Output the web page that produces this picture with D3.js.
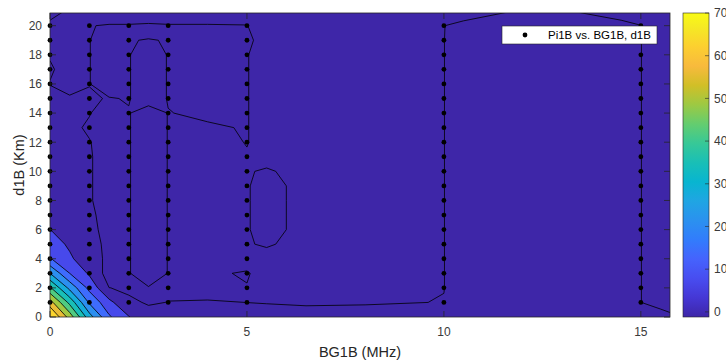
<!DOCTYPE html>
<html>
<head>
<meta charset="utf-8">
<script src="https://cdn.jsdelivr.net/npm/d3@7"></script>
<style>
  body { margin: 0; background: #fff; }
  svg { display: block; font-family: "Liberation Sans", Arial, sans-serif; }
</style>
</head>
<body>
<svg id="chart"></svg>
<script>
// contour grid: BG1B (MHz) columns, d1B (Km) rows
const bgNodes = [0, 0.5, 1, 1.5, 2, 2.5, 3, 4, 5, 5.5, 6.5, 8, 10, 10.5, 12.5, 14.5, 15, 15.5, 16];
const dNodes = [0, 1, 2, 3, 4, 5, 6, 7, 8, 9, 10, 11, 12, 13, 14, 15, 16, 17, 18, 19, 20, 21];

// Pi1B, one row per d1B node (bottom row first)
const pi1b = [
  [72, 53, 31, 15, 7.4, 1, 1, 1, 1, 1, 1, 1, 1, 1, 1, 1, 1, 1.2, 0.05],
  [59, 40, 20, 9, 0.5, -0.25, 0.05, 0.2, -0.01, -0.1, -0.3, -0.2, 0.05, 1, 1, 1, 0.03, -1, -1],
  [43, 26, 12, 0.05, -0.5, -0.1, -0.5, -1, -0.3, -1, -1, -1, -0.03, 1, 1, 1, 0.03, -1, -1],
  [28, 14, 6, -3, -0.1, 1, -0.05, -1, 0.6, -3, -1, -1, -0.03, 1, 1, 1, 0.03, -1, -1],
  [14.5, 8, 3, -1.5, -0.1, 1, -0.05, -1, -3, -1, -1, -1, -0.03, 1, 1, 1, 0.03, -1, -1],
  [10, 6, 1.5, -1, -0.1, 1, -0.05, -1, -0.2, 0.3, -1, -1, -0.03, 1, 1, 1, 0.03, -1, -1],
  [7.05, 4.5, 0.8, -1, -0.1, 1, -0.05, -1, -0.2, 1, -1, -1, -0.03, 1, 1, 1, 0.03, -1, -1],
  [4.5, 3, 0.5, -1, -0.1, 1, -0.05, -1, -0.2, 1, -1, -1, -0.03, 1, 1, 1, 0.03, -1, -1],
  [2, 1.5, 0.2, -1, -0.1, 1, -0.05, -1, -0.2, 1, -1, -1, -0.03, 1, 1, 1, 0.03, -1, -1],
  [2, 1.5, 0.2, -1, -0.1, 1, -0.05, -1, -0.2, 1, -1, -1, -0.03, 1, 1, 1, 0.03, -1, -1],
  [2, 1.5, 0.2, -1, -0.1, 1, -0.05, -1, -0.2, 0.3, -1, -1, -0.03, 1, 1, 1, 0.03, -1, -1],
  [2, 1.5, 0.2, -1, -0.1, 1, -0.05, -1, -0.2, -1, -1, -1, -0.03, 1, 1, 1, 0.03, -1, -1],
  [2, 1.5, 0.1, -1, -0.1, 1, -0.05, -1, 0.1, -1, -1, -1, -0.03, 1, 1, 1, 0.03, -1, -1],
  [2, 0.5, -0.3, -1, -0.1, 1, -0.05, -0.2, 0.1, -1, -1, -1, -0.03, 1, 1, 1, 0.03, -1, -1],
  [1.5, 0.8, 0.1, -1, -0.1, 1, -0.05, 0.3, 0.1, -1, -1, -1, -0.03, 1, 1, 1, 0.03, -1, -1],
  [1, 0.3, 0.2, -0.1, 0.1, -1, 0.1, 1, 0.1, -1, -1, -1, -0.03, 1, 1, 1, 0.03, -1, -1],
  [-0.1, -1, -0.05, 1, 0.1, -1, 0.1, 1, 0.1, -1, -1, -1, -0.03, 1, 1, 1, 0.03, -1, -1],
  [0.3, -1, -0.05, 1, 0.1, -1, 0.1, 1, 0.1, -1, -1, -1, -0.03, 1, 1, 1, 0.03, -1, -1],
  [-0.2, -1, -0.05, 1, 0.1, -1, 0.1, 1, 0.1, -1, -1, -1, -0.03, 1, 1, 1, 0.03, -1, -1],
  [-1, -1, -0.05, 1, 0.1, -0.1, 0.1, 1, 0.5, -1, -1, -1, -0.03, 1, 1, 1, 0.03, -1, -1],
  [-0.3, -1, -0.05, 0.1, 0.1, 0.9, 0.1, 0.1, 0.05, -1, -1, -1, -0.03, 0.5, 1, 0.6, 0.03, -1, -1],
  [0.5, -0.2, -1, -1, -1, -5, -1, -1, -1, -1, -1, -1, -1, -1, 0.6, -1, -1, -1, -1]
];

// measured points (scatter)
const bgSamples = [0, 1, 2, 3, 5, 10, 15];
const dSamples = [1, 2, 3, 4, 5, 6, 7, 8, 9, 10, 11, 12, 13, 14, 15, 16, 17, 18, 19, 20];

const levels = [0, 7, 14, 21, 28, 35, 42, 49, 56, 63];
const colorLimits = [-1.2, 70];
const colorTicks = [0, 10, 20, 30, 40, 50, 60, 70];
const xTicks = [0, 5, 10, 15];
const yTicks = [0, 2, 4, 6, 8, 10, 12, 14, 16, 18, 20];

// parula colormap
const parulaPos = [0, 4, 8, 12, 16, 20, 24, 28, 32, 36, 40, 44, 48, 52, 56, 60, 63].map(d => d / 63);
const parulaHex = ['#3e26a8', '#4537d5', '#484df0', '#4563fd', '#327cfc', '#2b91ef', '#20a5e3', '#08b5d0',
                   '#19bfb6', '#37c897', '#64cd6f', '#9dc943', '#d1bf27', '#f8ba3d', '#fccf30', '#f5e924', '#f9fb15'];
const parula = d3.scaleLinear().domain(parulaPos).range(parulaHex).interpolate(d3.interpolateRgb).clamp(true);
const cfrac = v => (v - colorLimits[0]) / (colorLimits[1] - colorLimits[0]);

const svgWidth = 726;
const svgHeight = 362;
const margin = {top: 13, right: 56, bottom: 45, left: 50};
const width = svgWidth - margin.left - margin.right;
const height = svgHeight - margin.top - margin.bottom;
const axisColor = '#262626';

const svg = d3.select('#chart')
    .attr('width', svgWidth)
    .attr('height', svgHeight);

const x = d3.scaleLinear().domain([0, 15.74]).range([margin.left, margin.left + width]);
const y = d3.scaleLinear().domain([0, 20.87]).range([margin.top + height, margin.top]);

svg.append('clipPath').attr('id', 'plot-clip')
    .append('rect')
    .attr('x', margin.left).attr('y', margin.top)
    .attr('width', width).attr('height', height);

const plot = svg.append('g').attr('clip-path', 'url(#plot-clip)');

// below the lowest level
plot.append('rect')
    .attr('x', margin.left).attr('y', margin.top)
    .attr('width', width).attr('height', height)
    .attr('fill', parula(0));

const nx = bgNodes.length;
const ny = dNodes.length;
const ix = d3.scaleLinear().domain(d3.range(nx)).range(bgNodes);
const iy = d3.scaleLinear().domain(d3.range(ny)).range(dNodes);
const proj = d3.geoTransform({
    point(px, py) { this.stream.point(x(ix(px - 0.5)), y(iy(py - 0.5))); }
});
const path = d3.geoPath(proj);

const bands = d3.contours().size([nx, ny]).thresholds(levels)(pi1b.flat());

plot.append('g')
    .selectAll('path')
    .data(bands)
    .join('path')
    .attr('d', path)
    .attr('fill', d => d.value === 0 ? parula(0) : parula(cfrac(d.value)))
    .attr('stroke', 'none');

plot.append('g')
    .selectAll('path')
    .data(bands)
    .join('path')
    .attr('d', path)
    .attr('fill', 'none')
    .attr('stroke', '#000')
    .attr('stroke-width', 0.8)
    .attr('stroke-linejoin', 'round');

// measured points
const pts = bgSamples.flatMap(b => dSamples.map(d => ({b, d})));
svg.append('g')
    .selectAll('circle')
    .data(pts)
    .join('circle')
    .attr('cx', d => x(d.b))
    .attr('cy', d => y(d.d))
    .attr('r', 2.4)
    .attr('fill', '#000');

// axes box with inward ticks on all sides
const tickLen = 6;
const ax = svg.append('g').attr('stroke', axisColor).attr('stroke-width', 0.8).attr('fill', 'none');
ax.append('rect')
    .attr('x', margin.left).attr('y', margin.top)
    .attr('width', width).attr('height', height);
xTicks.forEach(t => {
    ax.append('line').attr('x1', x(t)).attr('x2', x(t)).attr('y1', y(0)).attr('y2', y(0) - tickLen);
    ax.append('line').attr('x1', x(t)).attr('x2', x(t)).attr('y1', margin.top).attr('y2', margin.top + tickLen);
});
yTicks.forEach(t => {
    ax.append('line').attr('x1', margin.left).attr('x2', margin.left + tickLen).attr('y1', y(t)).attr('y2', y(t));
    ax.append('line').attr('x1', margin.left + width).attr('x2', margin.left + width - tickLen).attr('y1', y(t)).attr('y2', y(t));
});

svg.append('g')
    .selectAll('text')
    .data(xTicks)
    .join('text')
    .attr('x', d => x(d))
    .attr('y', y(0) + 19)
    .attr('text-anchor', 'middle')
    .attr('font-size', 12)
    .attr('fill', '#3a3a3a')
    .text(d => d);

svg.append('g')
    .selectAll('text')
    .data(yTicks)
    .join('text')
    .attr('x', margin.left - 8)
    .attr('y', d => y(d) + 4.3)
    .attr('text-anchor', 'end')
    .attr('font-size', 12)
    .attr('fill', '#3a3a3a')
    .text(d => d);

svg.append('text')
    .attr('x', margin.left + width / 2)
    .attr('y', 357)
    .attr('text-anchor', 'middle')
    .attr('font-size', 14.5)
    .attr('fill', '#262626')
    .text('BG1B (MHz)');

svg.append('text')
    .attr('transform', `translate(24, ${margin.top + height / 2}) rotate(-90)`)
    .attr('text-anchor', 'middle')
    .attr('font-size', 14.5)
    .attr('fill', '#262626')
    .text('d1B (Km)');

// legend
const lg = svg.append('g');
lg.append('rect')
    .attr('x', 502).attr('y', 26).attr('width', 155).attr('height', 18)
    .attr('fill', '#fff').attr('stroke', axisColor).attr('stroke-width', 0.6);
lg.append('circle').attr('cx', 525).attr('cy', 35).attr('r', 2.4).attr('fill', '#000');
lg.append('text')
    .attr('x', 548).attr('y', 39)
    .attr('font-size', 11.5)
    .attr('fill', '#000')
    .text('Pi1B vs. BG1B, d1B');

// colorbar
const cb = d3.scaleLinear().domain(colorLimits).range([margin.top + height, margin.top]);
const grad = svg.append('defs').append('linearGradient')
    .attr('id', 'cbar').attr('x1', 0).attr('y1', 1).attr('x2', 0).attr('y2', 0);
grad.selectAll('stop')
    .data(parulaPos)
    .join('stop')
    .attr('offset', d => d)
    .attr('stop-color', (d, i) => parulaHex[i]);

svg.append('rect')
    .attr('x', 683).attr('y', margin.top).attr('width', 26).attr('height', height)
    .attr('fill', 'url(#cbar)')
    .attr('stroke', axisColor).attr('stroke-width', 0.6);

svg.append('g')
    .selectAll('line')
    .data(colorTicks)
    .join('line')
    .attr('x1', 709).attr('x2', 705)
    .attr('y1', d => cb(d)).attr('y2', d => cb(d))
    .attr('stroke', axisColor).attr('stroke-width', 0.6);

svg.append('g')
    .selectAll('text')
    .data(colorTicks)
    .join('text')
    .attr('x', 714)
    .attr('y', d => cb(d) + 4.3)
    .attr('font-size', 12)
    .attr('fill', '#3a3a3a')
    .text(d => d);
</script>
</body>
</html>
